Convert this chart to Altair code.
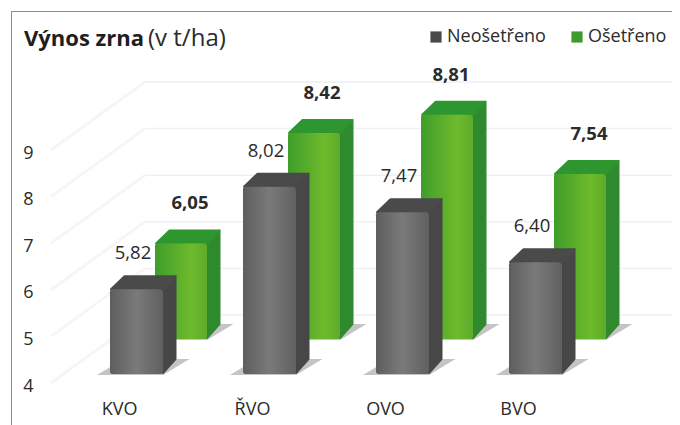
import altair as alt
import pandas as pd

categories = ["KVO", "ŘVO", "OVO", "BVO"]
untreated = [5.82, 8.02, 7.47, 6.40]
treated = [6.05, 8.42, 8.81, 7.54]
untreated_labels = ["5,82", "8,02", "7,47", "6,40"]
treated_labels = ["6,05", "8,42", "8,81", "7,54"]
series_names = ["Neošetřeno", "Ošetřeno"]
y_ticks = [4, 5, 6, 7, 8, 9]

FONT = "Open Sans"
INK = "#2b2b2b"
PX_X = 133.0
PX_Y = 46.6
L, T, W, H = 43, 3, 621, 372
XS = alt.Scale(domain=[-68 / PX_X, (W - 68) / PX_X], nice=False, zero=False)
YS = alt.Scale(domain=[4, 4 + H / PX_Y], nice=False, zero=False)
DX = 13.5 / PX_X
DY = 14 / PX_Y

AX = alt.Axis(values=[0, 1, 2, 3], title=None, grid=False, domain=False, ticks=False,
              labelExpr="['" + "','".join(categories) + "'][datum.value]",
              labelFont=FONT, labelFontSize=18, labelColor=INK, labelPadding=26,
              labelBaseline="middle", labelFlush=False)
AY = alt.Axis(values=y_ticks, title=None, grid=False, domain=False, ticks=False,
              labelFont=FONT, labelFontSize=18, labelColor=INK, labelPadding=18, labelOffset=3,
              labelBaseline="middle", labelFlush=False)


def grad(stops, horizontal=True):
    return alt.Gradient(
        gradient="linear",
        stops=[alt.GradientStop(color=c, offset=o) for o, c in stops],
        x1=0, y1=0,
        x2=1 if horizontal else 0, y2=0 if horizontal else 1,
    )


X = lambda f: alt.X(f, type="quantitative", scale=XS, axis=AX)
Y = lambda f: alt.Y(f, type="quantitative", scale=YS, axis=AY)


def series(name, values, x0_px, x1_px, base_px, front, side, top):
    x0, x1, b = x0_px / PX_X, x1_px / PX_X, base_px / PX_Y
    front_rows, side_rows, top_rows, shadow_rows = [], [], [], []
    for i, v in enumerate(values):
        front_rows.append(dict(s=name, a=i + x0, b=i + x1, y=4 + b, y2=v + b))
        side_rows += [
            dict(i=i, x=i + x1, y=4 + b + 1 / PX_Y, y2=v + b),
            dict(i=i, x=i + x1 + DX - 1 / PX_X, y=4 + b + DY + 1 / PX_Y, y2=v + b + DY - 1 / PX_Y),
        ]
        top_rows += [
            dict(i=i, y=v + b, x=i + x0 + 1 / PX_X, x2=i + x1),
            dict(i=i, y=v + b + DY - 1 / PX_Y, x=i + x0 + DX + 1 / PX_X, x2=i + x1 + DX - 1 / PX_X),
        ]
        shadow_rows += [
            dict(i=i, y=4 + b - 1 / PX_Y, x=i + x0 - 13 / PX_X, x2=i + x1),
            dict(i=i, y=4 + b + DY + 1 / PX_Y, x=i + x0 + DX, x2=i + x1 + DX + 13 / PX_X),
        ]
    d_front, d_side = pd.DataFrame(front_rows), pd.DataFrame(side_rows)
    d_top, d_shadow = pd.DataFrame(top_rows), pd.DataFrame(shadow_rows)
    return [
        alt.Chart(d_shadow).mark_area(orient="horizontal", color="#3c3c3c", opacity=0.3).encode(
            y=Y("y"), x=X("x"), x2="x2", detail="i:N"),
        alt.Chart(d_side).mark_area(color=side, stroke=side, strokeWidth=2, strokeJoin="round").encode(
            x=X("x"), y=Y("y"), y2="y2", detail="i:N"),
        alt.Chart(d_top).mark_area(orient="horizontal", color=top, stroke=top, strokeWidth=2, strokeJoin="round").encode(
            y=Y("y"), x=X("x"), x2="x2", detail="i:N"),
        alt.Chart(d_front).mark_rect(cornerRadius=3).encode(
            x=X("a"), x2="b", y=Y("y"), y2="y2",
            color=alt.Color("s:N",
                scale=alt.Scale(domain=series_names, range=["#4a4a4a", "#3f9a2b"]),
                legend=alt.Legend(
                    orient="none", legendX=376, legendY=17, direction="horizontal",
                    title=None, symbolType="square", symbolSize=125, symbolStrokeWidth=0,
                    labelFont=FONT, labelFontSize=18, labelColor=INK, columnPadding=22,
                    labelOffset=2, columns=2, symbolOpacity=1)),
        ),
        alt.Chart(d_front).mark_rect(color=front, cornerRadius=3).encode(
            x=X("a"), x2="b", y=Y("y"), y2="y2"),
    ]


# wall and floor grid
diag = pd.DataFrame([
    dict(v=v, x=-68 / PX_X, x2=(145 - 119) / PX_X, y=v, y2=v + 68 / PX_Y) for v in y_ticks
])
back = pd.DataFrame([
    dict(v=v, x=(145 - 119) / PX_X, x2=(W - 68) / PX_X, y=v + 68 / PX_Y) for v in y_ticks
])
diag_rule = alt.Chart(diag).mark_rule(color="#f6f6f5", strokeWidth=3).encode(
    x=X("x"), x2="x2", y=Y("y"), y2="y2")
back_rule = alt.Chart(back).mark_rule(color="#edf1f3", strokeWidth=1.5).encode(
    x=X("x"), x2="x2", y=Y("y"))

gray = series(series_names[0], untreated, -9, 44, 9,
              grad([(0, "#5e5e5e"), (0.5, "#7a7a7a"), (1, "#606060")]), "#474747", "#4a4a4a")
green = series(series_names[1], treated, 36, 88, 44,
               grad([(0, "#3f9d2a"), (0.7, "#6fba2c"), (1, "#5dab2b")]), "#2f8a2e", "#2e962e")

gray_text = pd.DataFrame(dict(x=range(4), y=untreated, t=untreated_labels))
green_text = pd.DataFrame(dict(x=range(4), y=treated, t=treated_labels))
green_dx = [71, 70, 66, 71]
green_text["x"] = [i + d / PX_X for i, d in enumerate(green_dx)]

t_gray = alt.Chart(gray_text).mark_text(font=FONT, fontSize=18.5, color=INK, dx=14, dy=-45).encode(
    x=X("x"), y=Y("y"), text="t")
t_green = alt.Chart(green_text).mark_text(font=FONT, fontSize=18.5, fontWeight="bold", color=INK, dy=-84).encode(
    x=X("x"), y=Y("y"), text="t")

one = pd.DataFrame([{"k": 0}])
frame_l = alt.Chart(one).mark_rule(color="#8c8c8c", strokeWidth=1).encode(
    x=alt.value(-39.5), y=alt.value(0), y2=alt.value(414))
frame_t = alt.Chart(one).mark_rule(color="#8c8c8c", strokeWidth=1).encode(
    x=alt.value(-39.5), x2=alt.value(W), y=alt.value(0.5))
title_a = alt.Chart(pd.DataFrame([{"t": "Výnos zrna"}])).mark_text(
    font=FONT, fontSize=22, fontWeight="bold", color="#1e1e1e", align="left", baseline="middle"
).encode(x=alt.value(-27), y=alt.value(27.5), text="t")
title_b = alt.Chart(pd.DataFrame([{"t": "(v t/ha)"}])).mark_text(
    font=FONT, fontSize=24, color="#2b2b2b", align="left", baseline="middle"
).encode(x=alt.value(97), y=alt.value(27.5), text="t")

chart = alt.layer(
    diag_rule, back_rule, *green, *gray, t_gray, t_green, frame_l, frame_t, title_a, title_b
).resolve_scale(color="shared").properties(
    width=W, height=H,
    background="white",
    autosize=alt.AutoSizeParams(type="none"),
    padding={"left": L, "top": T, "right": 0, "bottom": 42},
).configure_view(stroke=None)

chart.save("out.html", embed_options={"renderer": "svg", "actions": False})
